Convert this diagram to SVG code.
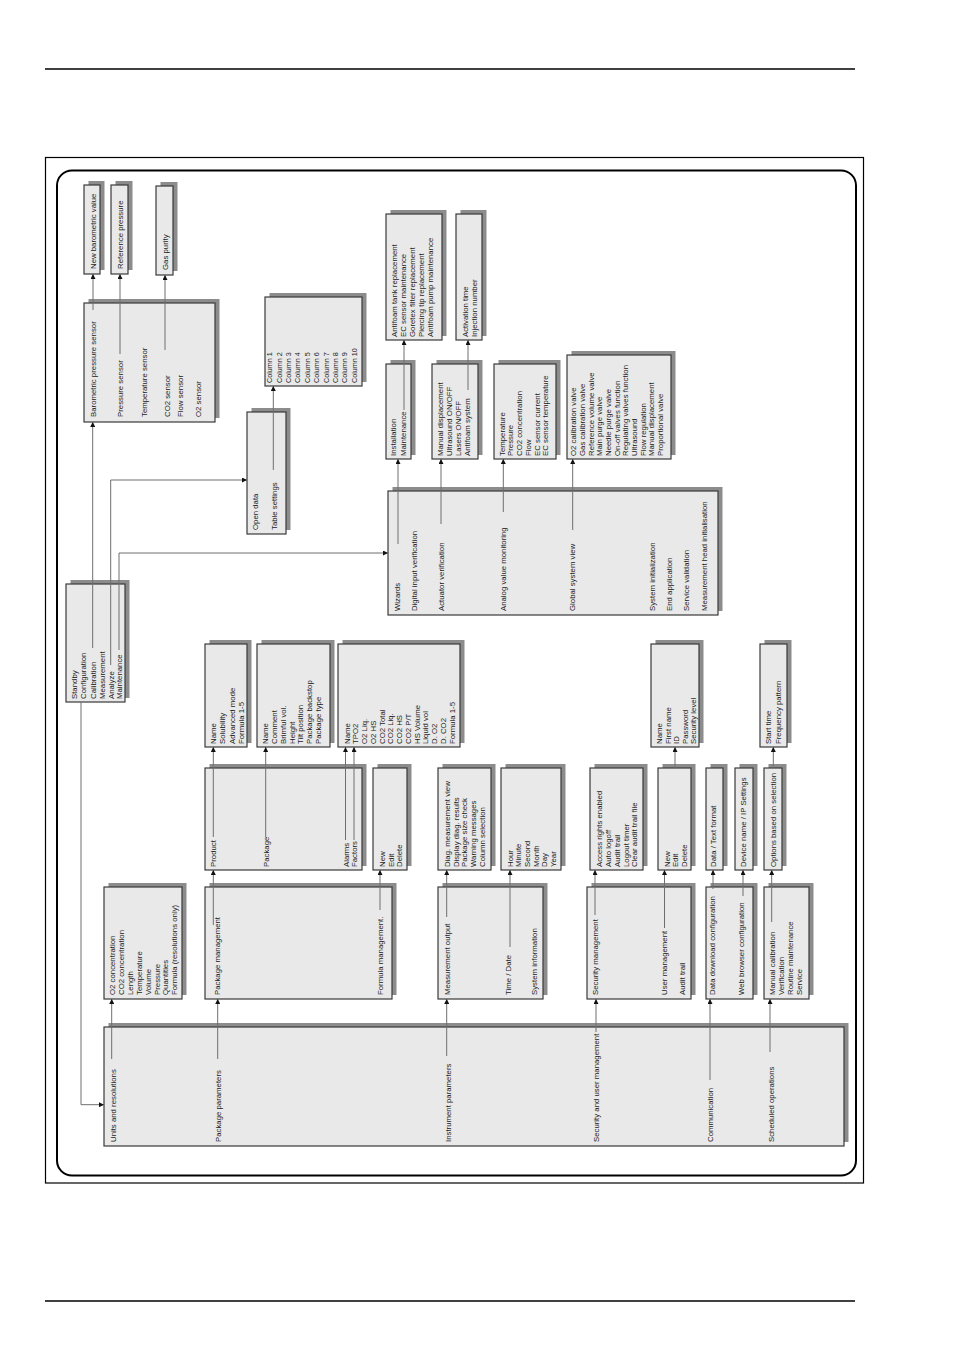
<svg xmlns="http://www.w3.org/2000/svg" width="954" height="1350" viewBox="0 0 954 1350">
<style>
.sh{fill:#8c8c8c}
.bx{fill:#e9e9e9;stroke:#3a3a3a;stroke-width:1.2}
.t{font-family:"Liberation Sans",Arial,sans-serif;font-size:7.8px;fill:#1a1a1a}
.c{font-size:7.2px}
.ln{fill:none;stroke:#6e6e6e;stroke-width:1}
</style>
<defs>
<marker id="ah" viewBox="0 0 6 6" refX="6" refY="3" markerWidth="6" markerHeight="5" orient="auto" markerUnits="userSpaceOnUse"><path d="M0,0 L6,3 L0,6 z" fill="#111"/></marker>
</defs>
<rect width="954" height="1350" fill="#fff"/>
<line x1="45" y1="69" x2="855" y2="69" stroke="#000" stroke-width="1.3"/>
<line x1="45" y1="1301" x2="855" y2="1301" stroke="#000" stroke-width="1.3"/>
<rect x="45.5" y="157.5" width="818" height="1025.5" fill="none" stroke="#000" stroke-width="1.2"/>
<rect x="57" y="170.5" width="799" height="1005" rx="15" ry="15" fill="none" stroke="#000" stroke-width="2"/>

<g id="newbaro"><rect class="sh" x="88.5" y="181" width="16" height="89"/><rect class="bx" x="84" y="185" width="16" height="89"/><text class="t" transform="translate(95.5 269) rotate(-90)">New barometric value</text></g>
<g id="refpress"><rect class="sh" x="115.5" y="181" width="17" height="89"/><rect class="bx" x="111" y="185" width="17" height="89"/><text class="t" transform="translate(122.8 269) rotate(-90)">Reference pressure</text></g>
<g id="gaspurity"><rect class="sh" x="160.5" y="182" width="17" height="89"/><rect class="bx" x="156" y="186" width="17" height="89"/><text class="t" transform="translate(167.5 270) rotate(-90)">Gas purity</text></g>

<g id="sensors"><rect class="sh" x="88.5" y="299" width="131" height="119"/><rect class="bx" x="84" y="303" width="131" height="119"/>
<text class="t" transform="translate(96.1 417) rotate(-90)">Barometric pressure sensor</text>
<text class="t" transform="translate(122.8 417) rotate(-90)">Pressure sensor</text>
<text class="t" transform="translate(146.8 417) rotate(-90)">Temperature sensor</text>
<text class="t" transform="translate(169.5 417) rotate(-90)">CO2 sensor</text>
<text class="t" transform="translate(182.8 417) rotate(-90)">Flow sensor</text>
<text class="t" transform="translate(201.1 417) rotate(-90)">O2 sensor</text></g>

<g id="columns"><rect class="sh" x="269.5" y="293" width="97" height="89"/><rect class="bx" x="265" y="297" width="97" height="89"/>
<text class="t c" transform="translate(272.1 383) rotate(-90)">Column 1</text>
<text class="t c" transform="translate(281.5 383) rotate(-90)">Column 2</text>
<text class="t c" transform="translate(290.9 383) rotate(-90)">Column 3</text>
<text class="t c" transform="translate(300.3 383) rotate(-90)">Column 4</text>
<text class="t c" transform="translate(309.7 383) rotate(-90)">Column 5</text>
<text class="t c" transform="translate(319.1 383) rotate(-90)">Column 6</text>
<text class="t c" transform="translate(328.5 383) rotate(-90)">Column 7</text>
<text class="t c" transform="translate(337.9 383) rotate(-90)">Column 8</text>
<text class="t c" transform="translate(347.3 383) rotate(-90)">Column 9</text>
<text class="t c" transform="translate(356.7 383) rotate(-90)">Column 10</text></g>

<g id="table"><rect class="sh" x="251.5" y="408" width="39" height="122"/><rect class="bx" x="247" y="412" width="39" height="122"/>
<text class="t" transform="translate(257.8 530) rotate(-90)">Open data</text>
<text class="t" transform="translate(276.8 530) rotate(-90)">Table settings</text></g>

<g id="mainmenu"><rect class="sh" x="70.5" y="580" width="59" height="118"/><rect class="bx" x="66" y="584" width="59" height="118"/>
<text class="t" transform="translate(76.8 699) rotate(-90)">Standby</text>
<text class="t" transform="translate(85.8 699) rotate(-90)">Configuration</text>
<text class="t" transform="translate(95.5 699) rotate(-90)">Calibration</text>
<text class="t" transform="translate(104.5 699) rotate(-90)">Measurement</text>
<text class="t" transform="translate(113.5 699) rotate(-90)">Analyze</text>
<text class="t" transform="translate(121.8 699) rotate(-90)">Maintenance</text></g>

<g id="antifoam"><rect class="sh" x="390.5" y="210" width="56" height="126"/><rect class="bx" x="386" y="214" width="56" height="126"/>
<text class="t" transform="translate(397.1 337) rotate(-90)">Antifoam tank replacement</text>
<text class="t" transform="translate(406.1 337) rotate(-90)">EC sensor maintenance</text>
<text class="t" transform="translate(415.1 337) rotate(-90)">Goretex filter replacement</text>
<text class="t" transform="translate(424.1 337) rotate(-90)">Piercing tip replacement</text>
<text class="t" transform="translate(433.1 337) rotate(-90)">Antifoam pump maintenance</text></g>

<g id="activation"><rect class="sh" x="460.5" y="210" width="26" height="126"/><rect class="bx" x="456" y="214" width="26" height="126"/>
<text class="t" transform="translate(467.8 337) rotate(-90)">Activation time</text>
<text class="t" transform="translate(477.1 337) rotate(-90)">Injection number</text></g>

<g id="installation"><rect class="sh" x="390.5" y="360" width="25" height="95"/><rect class="bx" x="386" y="364" width="25" height="95"/>
<text class="t" transform="translate(396.1 456) rotate(-90)">Installation</text>
<text class="t" transform="translate(405.8 456) rotate(-90)">Maintenance</text></g>

<g id="actuators"><rect class="sh" x="436.5" y="360" width="46" height="95"/><rect class="bx" x="432" y="364" width="46" height="95"/>
<text class="t" transform="translate(443.3 456) rotate(-90)">Manual displacement</text>
<text class="t" transform="translate(452.3 456) rotate(-90)">Ultrasound ON/OFF</text>
<text class="t" transform="translate(461.3 456) rotate(-90)">Lasers ON/OFF</text>
<text class="t" transform="translate(470.3 456) rotate(-90)">Antifoam system</text></g>

<g id="analog"><rect class="sh" x="498.5" y="360" width="62" height="95"/><rect class="bx" x="494" y="364" width="62" height="95"/>
<text class="t" transform="translate(504.5 456) rotate(-90)">Temperature</text>
<text class="t" transform="translate(513.3 456) rotate(-90)">Pressure</text>
<text class="t" transform="translate(522.1 456) rotate(-90)">CO2 concentration</text>
<text class="t" transform="translate(530.8 456) rotate(-90)">Flow</text>
<text class="t" transform="translate(539.5 456) rotate(-90)">EC sensor current</text>
<text class="t" transform="translate(548.3 456) rotate(-90)">EC sensor temperature</text></g>

<g id="globalview"><rect class="sh" x="571.5" y="351" width="104" height="104"/><rect class="bx" x="567" y="355" width="104" height="104"/>
<text class="t" transform="translate(576.3 456) rotate(-90)">O2 calibration valve</text>
<text class="t" transform="translate(585 456) rotate(-90)">Gas calibration valve</text>
<text class="t" transform="translate(593.6 456) rotate(-90)">Reference volume valve</text>
<text class="t" transform="translate(602.3 456) rotate(-90)">Main purge valve</text>
<text class="t" transform="translate(610.9 456) rotate(-90)">Needle purge valve</text>
<text class="t" transform="translate(619.6 456) rotate(-90)">On-off valves function</text>
<text class="t" transform="translate(628.2 456) rotate(-90)">Regulating valves function</text>
<text class="t" transform="translate(636.9 456) rotate(-90)">Ultrasound</text>
<text class="t" transform="translate(645.5 456) rotate(-90)">Flow regulation</text>
<text class="t" transform="translate(654.2 456) rotate(-90)">Manual displacement</text>
<text class="t" transform="translate(662.8 456) rotate(-90)">Proportional valve</text></g>

<g id="wizards"><rect class="sh" x="392.5" y="487" width="330" height="124"/><rect class="bx" x="388" y="491" width="330" height="124"/>
<text class="t" transform="translate(399.5 611) rotate(-90)">Wizards</text>
<text class="t" transform="translate(417.1 611) rotate(-90)">Digital input verification</text>
<text class="t" transform="translate(443.8 611) rotate(-90)">Actuator verification</text>
<text class="t" transform="translate(506.1 611) rotate(-90)">Analog value monitoring</text>
<text class="t" transform="translate(575.1 611) rotate(-90)">Global system view</text>
<text class="t" transform="translate(654.5 611) rotate(-90)">System initialization</text>
<text class="t" transform="translate(671.8 611) rotate(-90)">End application</text>
<text class="t" transform="translate(688.8 611) rotate(-90)">Service validation</text>
<text class="t" transform="translate(706.8 611) rotate(-90)">Measurement head initialisation</text></g>

<g id="productattr"><rect class="sh" x="209.5" y="640" width="42" height="103"/><rect class="bx" x="205" y="644" width="42" height="103"/>
<text class="t" transform="translate(216.1 744) rotate(-90)">Name</text>
<text class="t" transform="translate(225.1 744) rotate(-90)">Solubility</text>
<text class="t" transform="translate(234.5 744) rotate(-90)">Advanced mode</text>
<text class="t" transform="translate(243.8 744) rotate(-90)">Formula 1-5</text></g>

<g id="packageattr"><rect class="sh" x="261.5" y="640" width="73" height="103"/><rect class="bx" x="257" y="644" width="73" height="103"/>
<text class="t" transform="translate(267.8 744) rotate(-90)">Name</text>
<text class="t" transform="translate(276.8 744) rotate(-90)">Comment</text>
<text class="t" transform="translate(285.5 744) rotate(-90)">Brimful vol.</text>
<text class="t" transform="translate(294.5 744) rotate(-90)">Height</text>
<text class="t" transform="translate(302.8 744) rotate(-90)">Tilt position</text>
<text class="t" transform="translate(311.8 744) rotate(-90)">Package backstop</text>
<text class="t" transform="translate(320.5 744) rotate(-90)">Package type</text></g>

<g id="alarmattr"><rect class="sh" x="342.5" y="640" width="122" height="103"/><rect class="bx" x="338" y="644" width="122" height="103"/>
<text class="t" transform="translate(349.5 744) rotate(-90)">Name</text>
<text class="t" transform="translate(357.8 744) rotate(-90)">TPO2</text>
<text class="t" transform="translate(366.8 744) rotate(-90)">O2 Liq.</text>
<text class="t" transform="translate(375.5 744) rotate(-90)">O2 HS</text>
<text class="t" transform="translate(384.5 744) rotate(-90)">CO2 Total</text>
<text class="t" transform="translate(392.8 744) rotate(-90)">CO2 Liq.</text>
<text class="t" transform="translate(401.8 744) rotate(-90)">CO2 HS</text>
<text class="t" transform="translate(410.5 744) rotate(-90)">CO2 P/T</text>
<text class="t" transform="translate(419.5 744) rotate(-90)">HS Volume</text>
<text class="t" transform="translate(427.8 744) rotate(-90)">Liquid vol</text>
<text class="t" transform="translate(436.8 744) rotate(-90)">D. O2</text>
<text class="t" transform="translate(445.5 744) rotate(-90)">D. CO2</text>
<text class="t" transform="translate(454.5 744) rotate(-90)">Formula 1-5</text></g>

<g id="userattr"><rect class="sh" x="655.5" y="640" width="48" height="103"/><rect class="bx" x="651" y="644" width="48" height="103"/>
<text class="t" transform="translate(661.8 744) rotate(-90)">Name</text>
<text class="t" transform="translate(670.5 744) rotate(-90)">First name</text>
<text class="t" transform="translate(678.8 744) rotate(-90)">ID</text>
<text class="t" transform="translate(687.8 744) rotate(-90)">Password</text>
<text class="t" transform="translate(696.1 744) rotate(-90)">Security level</text></g>

<g id="schedattr"><rect class="sh" x="764.5" y="640" width="27" height="103"/><rect class="bx" x="760" y="644" width="27" height="103"/>
<text class="t" transform="translate(771.1 744) rotate(-90)">Start time</text>
<text class="t" transform="translate(780.5 744) rotate(-90)">Frequency pattern</text></g>

<g id="pkgmenu"><rect class="sh" x="209.5" y="764" width="157" height="102"/><rect class="bx" x="205" y="768" width="157" height="102"/>
<text class="t" transform="translate(216.1 867) rotate(-90)">Product</text>
<text class="t" transform="translate(268.5 867) rotate(-90)">Package</text>
<text class="t" transform="translate(348.5 867) rotate(-90)">Alarms</text>
<text class="t" transform="translate(356.8 867) rotate(-90)">Factors</text></g>

<g id="formulaops"><rect class="sh" x="377.5" y="764" width="34" height="102"/><rect class="bx" x="373" y="768" width="34" height="102"/>
<text class="t" transform="translate(384.5 867) rotate(-90)">New</text>
<text class="t" transform="translate(393.5 867) rotate(-90)">Edit</text>
<text class="t" transform="translate(401.8 867) rotate(-90)">Delete</text></g>

<g id="measview"><rect class="sh" x="442.5" y="764" width="53" height="102"/><rect class="bx" x="438" y="768" width="53" height="102"/>
<text class="t" transform="translate(449.5 867) rotate(-90)">Diag. measurement view</text>
<text class="t" transform="translate(458.5 867) rotate(-90)">Display diag. results</text>
<text class="t" transform="translate(467.1 867) rotate(-90)">Package size check</text>
<text class="t" transform="translate(476.1 867) rotate(-90)">Warning messages</text>
<text class="t" transform="translate(484.5 867) rotate(-90)">Column selection</text></g>

<g id="timedate"><rect class="sh" x="505.5" y="764" width="60" height="102"/><rect class="bx" x="501" y="768" width="60" height="102"/>
<text class="t" transform="translate(512.8 867) rotate(-90)">Hour</text>
<text class="t" transform="translate(521.1 867) rotate(-90)">Minute</text>
<text class="t" transform="translate(529.5 867) rotate(-90)">Second</text>
<text class="t" transform="translate(538.5 867) rotate(-90)">Month</text>
<text class="t" transform="translate(547.1 867) rotate(-90)">Day</text>
<text class="t" transform="translate(556.1 867) rotate(-90)">Year</text></g>

<g id="security"><rect class="sh" x="594.5" y="764" width="53" height="102"/><rect class="bx" x="590" y="768" width="53" height="102"/>
<text class="t" transform="translate(601.8 867) rotate(-90)">Access rights enabled</text>
<text class="t" transform="translate(610.8 867) rotate(-90)">Auto logoff</text>
<text class="t" transform="translate(619.8 867) rotate(-90)">Audit trail</text>
<text class="t" transform="translate(628.8 867) rotate(-90)">Logout timer</text>
<text class="t" transform="translate(637.3 867) rotate(-90)">Clear audit trail file</text></g>

<g id="userops"><rect class="sh" x="662.5" y="764" width="33" height="102"/><rect class="bx" x="658" y="768" width="33" height="102"/>
<text class="t" transform="translate(669.5 867) rotate(-90)">New</text>
<text class="t" transform="translate(677.8 867) rotate(-90)">Edit</text>
<text class="t" transform="translate(686.8 867) rotate(-90)">Delete</text></g>

<g id="dataformat"><rect class="sh" x="710.5" y="764" width="17" height="102"/><rect class="bx" x="706" y="768" width="17" height="102"/>
<text class="t" transform="translate(716.1 867) rotate(-90)">Data / Text format</text></g>

<g id="devicename"><rect class="sh" x="739.5" y="764" width="18" height="102"/><rect class="bx" x="735" y="768" width="18" height="102"/>
<text class="t" transform="translate(746.1 867) rotate(-90)">Device name / IP Settings</text></g>

<g id="options"><rect class="sh" x="768.5" y="764" width="18" height="102"/><rect class="bx" x="764" y="768" width="18" height="102"/>
<text class="t" transform="translate(776.1 867) rotate(-90)">Options based on selection</text></g>

<g id="units"><rect class="sh" x="108.5" y="883" width="78" height="112"/><rect class="bx" x="104" y="887" width="78" height="112"/>
<text class="t" transform="translate(114.5 995) rotate(-90)">O2 concentration</text>
<text class="t" transform="translate(123.8 995) rotate(-90)">CO2 concentration</text>
<text class="t" transform="translate(132.8 995) rotate(-90)">Length</text>
<text class="t" transform="translate(141.8 995) rotate(-90)">Temperature</text>
<text class="t" transform="translate(150.5 995) rotate(-90)">Volume</text>
<text class="t" transform="translate(159.5 995) rotate(-90)">Pressure</text>
<text class="t" transform="translate(167.8 995) rotate(-90)">Quantities</text>
<text class="t" transform="translate(176.8 995) rotate(-90)">Formula (resolutions only)</text></g>

<g id="pkgparams"><rect class="sh" x="209.5" y="883" width="187" height="112"/><rect class="bx" x="205" y="887" width="187" height="112"/>
<text class="t" transform="translate(219.5 995) rotate(-90)">Package management</text>
<text class="t" transform="translate(382.8 995) rotate(-90)">Formula management.</text></g>

<g id="instparams"><rect class="sh" x="442.5" y="883" width="105" height="112"/><rect class="bx" x="438" y="887" width="105" height="112"/>
<text class="t" transform="translate(449.5 995) rotate(-90)">Measurement output</text>
<text class="t" transform="translate(511.1 995) rotate(-90)">Time / Date</text>
<text class="t" transform="translate(537.1 995) rotate(-90)">System information</text></g>

<g id="secparams"><rect class="sh" x="591.5" y="883" width="104" height="112"/><rect class="bx" x="587" y="887" width="104" height="112"/>
<text class="t" transform="translate(597.8 995) rotate(-90)">Security management</text>
<text class="t" transform="translate(667.3 995) rotate(-90)">User management</text>
<text class="t" transform="translate(685.1 995) rotate(-90)">Audit trail</text></g>

<g id="commparams"><rect class="sh" x="710.5" y="883" width="47" height="112"/><rect class="bx" x="706" y="887" width="47" height="112"/>
<text class="t" transform="translate(715.1 995) rotate(-90)">Data download configuration</text>
<text class="t" transform="translate(743.8 995) rotate(-90)">Web browser configuration</text></g>

<g id="schedparams"><rect class="sh" x="768.5" y="883" width="45" height="112"/><rect class="bx" x="764" y="887" width="45" height="112"/>
<text class="t" transform="translate(774.5 995) rotate(-90)">Manual calibration</text>
<text class="t" transform="translate(783.8 995) rotate(-90)">Verification</text>
<text class="t" transform="translate(792.8 995) rotate(-90)">Routine maintenance</text>
<text class="t" transform="translate(802.1 995) rotate(-90)">Service</text></g>

<g id="configuration"><rect class="sh" x="108.5" y="1023" width="740" height="119"/><rect class="bx" x="104" y="1027" width="740" height="119"/>
<text class="t" transform="translate(116.1 1142) rotate(-90)">Units and resolutions</text>
<text class="t" transform="translate(221.1 1142) rotate(-90)">Package parameters</text>
<text class="t" transform="translate(450.5 1142) rotate(-90)">Instrument parameters</text>
<text class="t" transform="translate(598.8 1142) rotate(-90)">Security and user management</text>
<text class="t" transform="translate(712.8 1142) rotate(-90)">Communication</text>
<text class="t" transform="translate(773.5 1142) rotate(-90)">Scheduled operations</text></g>

<g id="connectors" marker-end="url(#ah)">
<polyline class="ln" marker-end="url(#ah)" points="81,702 81,1104.7 104,1104.7"/>
<polyline class="ln" marker-end="url(#ah)" points="92.7,648 92.7,422"/>
<polyline class="ln" marker-end="url(#ah)" points="110.7,665 110.7,480 247,480"/>
<polyline class="ln" marker-end="url(#ah)" points="119,650 119,553 388,553"/>
<polyline class="ln" marker-end="url(#ah)" points="93,310 93,274"/>
<polyline class="ln" marker-end="url(#ah)" points="120,354 120,274"/>
<polyline class="ln" marker-end="url(#ah)" points="165,350 165,275"/>
<polyline class="ln" marker-end="url(#ah)" points="273.3,470 273.3,386"/>
<polyline class="ln" marker-end="url(#ah)" points="398,544 398,459"/>
<polyline class="ln" marker-end="url(#ah)" points="404,410 404,340"/>
<polyline class="ln" marker-end="url(#ah)" points="468,390 468,340"/>
<polyline class="ln" marker-end="url(#ah)" points="441,524 441,459"/>
<polyline class="ln" marker-end="url(#ah)" points="503.3,512 503.3,459"/>
<polyline class="ln" marker-end="url(#ah)" points="572.7,530 572.7,459"/>
<polyline class="ln" marker-end="url(#ah)" points="213.3,837 213.3,747"/>
<polyline class="ln" marker-end="url(#ah)" points="265.7,837 265.7,747"/>
<polyline class="ln" marker-end="url(#ah)" points="345.5,840 345.5,747"/>
<polyline class="ln" marker-end="url(#ah)" points="354,840 354,747"/>
<polyline class="ln" marker-end="url(#ah)" points="213.3,925 213.3,870"/>
<polyline class="ln" marker-end="url(#ah)" points="380,910 380,870"/>
<polyline class="ln" marker-end="url(#ah)" points="446.7,917 446.7,870"/>
<polyline class="ln" marker-end="url(#ah)" points="510,947 510,870"/>
<polyline class="ln" marker-end="url(#ah)" points="595,915 595,870"/>
<polyline class="ln" marker-end="url(#ah)" points="664.5,928 664.5,870"/>
<polyline class="ln" marker-end="url(#ah)" points="675,768 675,747"/>
<polyline class="ln" marker-end="url(#ah)" points="773.3,768 773.3,747"/>
<polyline class="ln" marker-end="url(#ah)" points="713,889 713,870"/>
<polyline class="ln" marker-end="url(#ah)" points="743,896 743,870"/>
<polyline class="ln" marker-end="url(#ah)" points="771.7,922 771.7,870"/>
<polyline class="ln" marker-end="url(#ah)" points="111.7,1059 111.7,999"/>
<polyline class="ln" marker-end="url(#ah)" points="217.7,1059 217.7,999"/>
<polyline class="ln" marker-end="url(#ah)" points="446.7,1056 446.7,999"/>
<polyline class="ln" marker-end="url(#ah)" points="596,1032 596,999"/>
<polyline class="ln" marker-end="url(#ah)" points="710,1080 710,999"/>
<polyline class="ln" marker-end="url(#ah)" points="770,1052 770,999"/>
</g>
</svg>
